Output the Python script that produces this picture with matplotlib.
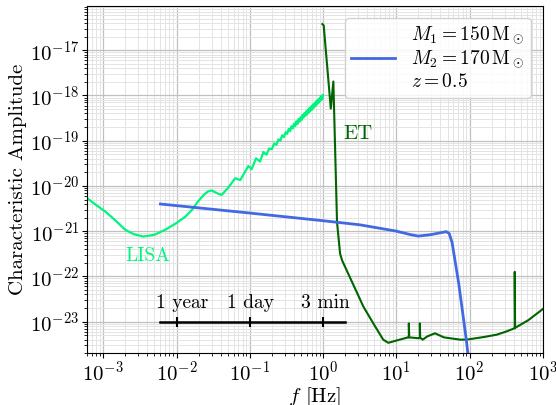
import numpy as np
import matplotlib
matplotlib.use('Agg')
import matplotlib.pyplot as plt

plt.rcParams['font.family'] = 'serif'
plt.rcParams['font.serif'] = ['cmr10']
plt.rcParams['mathtext.fontset'] = 'cm'
plt.rcParams['axes.unicode_minus'] = False
plt.rcParams['axes.formatter.use_mathtext'] = True

# values, as log10(f [Hz]) and log10(h_c)
lisa_logf = [-3.22, -3.10, -2.97, -2.85, -2.70, -2.58, -2.45, -2.30, -2.155, -2.0,
             -1.88, -1.79, -1.71, -1.63, -1.57, -1.52, -1.45, -1.385, -1.30, -1.20,
             -1.13, -1.02, -0.975, -0.916, -0.86,
             -0.815, -0.773, -0.735, -0.700, -0.668, -0.637, -0.609, -0.583, -0.558, -0.534,
             -0.511, -0.490, -0.470, -0.450, -0.432, -0.414, -0.397, -0.380, -0.3645, -0.349,
             -0.334, -0.320, -0.306, -0.293, -0.280, -0.267, -0.255, -0.243, -0.231, -0.220,
             -0.209, -0.198, -0.188, -0.1775, -0.1675, -0.158, -0.148, -0.1388, -0.1296, -0.1206,
             -0.1118, -0.1032, -0.0947, -0.0864, -0.0783, -0.0703, -0.0625, -0.0548, -0.0472, -0.0398,
             -0.0325, -0.0253, -0.0182, -0.0112, -0.0044]
lisa_logh = [-20.27, -20.42, -20.57, -20.74, -20.97, -21.07, -21.12, -21.08, -20.97, -20.82,
             -20.68, -20.53, -20.35, -20.20, -20.12, -20.10, -20.16, -20.20, -20.05, -19.83,
             -19.87, -19.56, -19.63, -19.39, -19.46,
             -19.25, -19.31, -19.17, -19.19, -19.06, -19.09, -18.97, -19.00, -18.88, -18.92,
             -18.81, -18.85, -18.74, -18.79, -18.68, -18.73, -18.62, -18.68, -18.57, -18.63,
             -18.52, -18.58, -18.48, -18.54, -18.43, -18.49, -18.39, -18.45, -18.35, -18.42,
             -18.32, -18.38, -18.28, -18.35, -18.25, -18.32, -18.22, -18.29, -18.19, -18.26,
             -18.16, -18.23, -18.13, -18.20, -18.11, -18.17, -18.08, -18.15, -18.06, -18.12,
             -18.03, -18.10, -18.01, -18.08, -17.99]

et_logf = [-0.01, 0.008, 0.105, 0.14, 0.19, 0.232, 0.26, 0.55, 0.685, 0.82,
           0.89, 1.0, 1.16, 1.17, 1.17, 1.175, 1.31, 1.32, 1.32, 1.325,
           1.36, 1.42, 1.526, 1.65, 1.87, 1.96, 2.2, 2.37, 2.5, 2.61,
           2.615, 2.615, 2.62, 2.8, 2.985, 3.0]
et_logh = [-16.42, -16.45, -18.29, -17.69, -20.80, -21.50, -21.65, -22.67, -23.04, -23.40,
           -23.47, -23.42, -23.35, -23.35, -23.04, -23.35, -23.37, -23.36, -23.04, -23.36,
           -23.40, -23.33, -23.26, -23.35, -23.40, -23.40, -23.34, -23.29, -23.22, -23.15,
           -23.15, -21.90, -23.14, -22.97, -22.74, -22.72]

bbh_logf = [-2.22, -1.0, 0.0, 0.5, 1.0, 1.2, 1.3, 1.46, 1.59, 1.68,
            1.72, 1.76, 1.80, 1.85, 1.90, 1.95, 1.99]
bbh_logh = [-20.40, -20.60, -20.77, -20.86, -21.00, -21.08, -21.11, -21.08, -21.04, -21.01,
            -21.05, -21.25, -21.65, -22.15, -22.75, -23.35, -23.90]

time_f = [6e-3, 2.0]
time_ticks = [1e-2, 1e-1, 1e0]
time_labels = ['1 year', '1 day', '3 min']
time_label_f = [1.18e-2, 1.02e-1, 1.08e0]

lisa_col = '#00f57f'
et_col = '#006400'
bbh_col = '#4169e1'

fig = plt.figure(figsize=(5.56, 4.05), dpi=100)
ax = fig.add_axes([0.1565, 0.128, 0.82, 0.857])

ax.loglog(10**np.array(lisa_logf), 10**np.array(lisa_logh), color=lisa_col, lw=1.6)
ax.loglog(10**np.array(et_logf), 10**np.array(et_logh), color=et_col, lw=1.5)
ax.loglog(10**np.array(bbh_logf), 10**np.array(bbh_logh), color=bbh_col, lw=2,
          label='$M_1 = 150\\,\\mathrm{M}_\\odot$\n$M_2 = 170\\,\\mathrm{M}_\\odot$\n$z = 0.5$')

# time-to-merger bar
ax.plot(time_f, [1e-23, 1e-23], color='k', lw=1.8)
ax.plot(time_ticks, [1e-23] * 3, ls='none', marker='|', ms=7, mew=1.5, color='k')
for fx, lab in zip(time_label_f, time_labels):
    ax.text(fx, 2.0e-23, lab, ha='center', va='baseline', fontsize=14)

ax.text(4.0e-3, 2.8e-22, 'LISA', color=lisa_col, ha='center', va='center', fontsize=14)
ax.text(3.0, 1.4e-19, 'ET', color=et_col, ha='center', va='center', fontsize=15)

ax.set_xlim(6e-4, 1e3)
ax.set_ylim(2e-24, 9.5e-17)
ax.grid(True, which='major', color='#c0c0c0', lw=0.9)
ax.grid(True, which='minor', color='#e4e4e4', lw=0.7)
ax.set_axisbelow(True)
ax.tick_params(labelsize=15, pad=2)

ax.set_xlabel('$f$ [Hz]', fontsize=15, labelpad=0)
ax.set_ylabel('Characteristic Amplitude', fontsize=15, labelpad=2)

leg = ax.legend(loc='upper right', fontsize=14, handlelength=2.25, framealpha=0.85,
                borderpad=0.35, labelspacing=0.2, borderaxespad=0.6)

fig.savefig('out.png', dpi=100)
